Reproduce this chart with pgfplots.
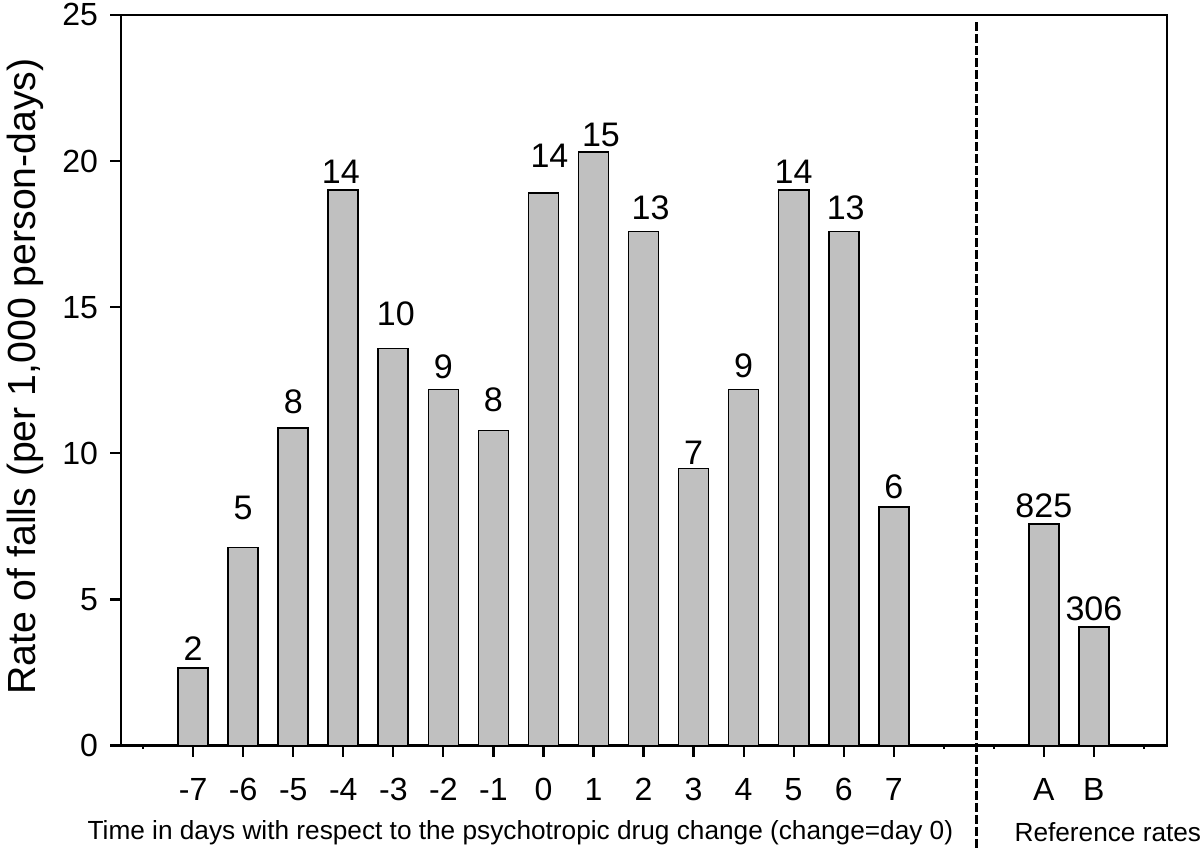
\documentclass[border=0pt]{standalone}
\usepackage{fontspec}
\setmainfont{Liberation Sans}
\usepackage{pgfplots}
\usepackage{pgfplotstable}
\pgfplotsset{compat=1.18}
\definecolor{barfill}{RGB}{192,192,192}

% x position, rate, position of the count label, count
\pgfplotstableread{
x  y     lx    ly    lab
-7 2.65  -7    3.32  2
-6 6.78  -6    8.12  5
-5 10.87 -5    11.75 8
-4 19.00 -4.05 19.62 14
-3 13.59 -2.95 14.79 10
-2 12.18 -2    12.95 9
-1 10.78 -1    11.82 8
0  18.90 0.12  20.17 14
1  20.30 1.15  20.88 15
2  17.59 2.14  18.39 13
3  9.48  3     10.03 7
4  12.18 4     13.01 9
5  19.00 5     19.62 14
6  17.59 6.04  18.39 13
7  8.16  7     8.84  6
10 7.57  10    8.22  825
11 4.05  11    4.69  306
}\falls

\begin{document}
\begin{tikzpicture}
\begin{axis}[
 scale only axis,width=522.5pt,height=365pt,
 xmin=-8.44,xmax=12.46,ymin=0,ymax=25,
 axis line style={line width=1.1pt},
 every tick/.style={black,line width=1.1pt},
 tick align=outside,major tick length=5.5pt,minor tick length=1.5pt,
 xtick pos=bottom,ytick pos=left,
 xtick={-7,-6,-5,-4,-3,-2,-1,0,1,2,3,4,5,6,7,10,11},
 xticklabels={-7,-6,-5,-4,-3,-2,-1,0,1,2,3,4,5,6,7,A,B},
 minor xtick={-8,8,9,12},
 ytick={0,5,10,15,20,25},
 tick label style={font=\fontsize{16}{18}\selectfont},
 xticklabel style={text height=11.5pt,text depth=0pt,anchor=north,yshift=-7pt},
 yticklabel style={xshift=-2.5pt},
 /pgf/number format/assume math mode=true,
 ylabel={Rate of falls (per 1,000 person-days)},
 ylabel style={font=\fontsize{19.6}{22}\selectfont,at={(rel axis cs:-0.092,0.505)},anchor=center},
 clip=false]
 \addplot[ybar,bar width=0.6,fill=barfill,draw=black,line width=0.85pt] table[x=x,y=y]{\falls};
 \addplot[draw=none,mark=none,nodes near coords,point meta=explicit symbolic,
   nodes near coords align=center,
   every node near coord/.append style={font=\fontsize{17}{19}\selectfont,inner sep=0pt}]
   table[x=lx,y=ly,meta=lab]{\falls};
 \draw[line width=1.5pt,dash pattern=on 4.5pt off 1.5pt] (axis cs:8.654,24.75) -- (axis cs:8.654,-3.49);
 \node[font=\fontsize{13.1}{15}\selectfont] at (rel axis cs:0.3818,-0.119) {Time in days with respect to the psychotropic drug change (change=day 0)};
 \node[font=\fontsize{13.1}{15}\selectfont] at (rel axis cs:0.9435,-0.119) {Reference rates};
 \coordinate (bbA) at (rel axis cs:-0.1158,-0.1397);
 \coordinate (bbB) at (rel axis cs:1.0316,1.0205);
\end{axis}
\pgfresetboundingbox
\useasboundingbox (bbA) rectangle (bbB);
\end{tikzpicture}
\end{document}
